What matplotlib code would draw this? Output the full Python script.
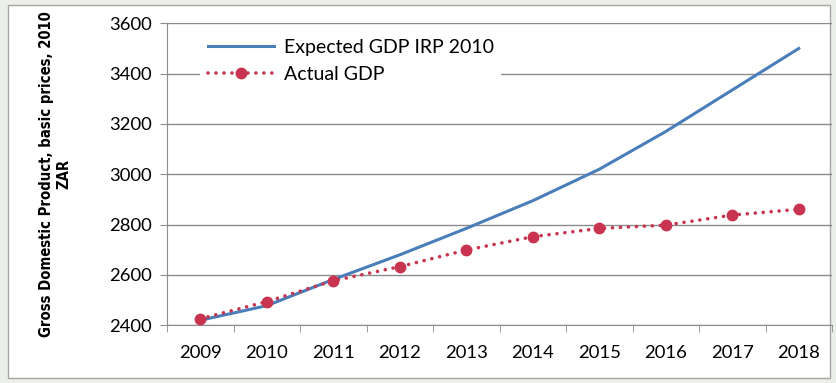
import matplotlib.pyplot as plt
from matplotlib.patches import Rectangle

years = ["2009", "2010", "2011", "2012", "2013", "2014", "2015", "2016", "2017", "2018"]
expected_gdp = [2420, 2478, 2582, 2680, 2785, 2895, 3020, 3170, 3335, 3500]
actual_gdp = [2426, 2494, 2577, 2633, 2699, 2752, 2785, 2798, 2838, 2861]

blue = "#4a7ebb"
red = "#c8334f"
grid_col = "#8c8c8c"

fig = plt.figure(figsize=(8.36, 3.83), dpi=100)
fig.patch.set_facecolor("#eceee9")
# white chart area with a thin frame
frame = Rectangle((8/836, 1-378/383), 822/836, 373/383, transform=fig.transFigure,
                  facecolor="white", edgecolor="#a6a6a6", linewidth=1, zorder=-10)
fig.add_artist(frame)

ax = fig.add_axes([167/836, 1-325.3/383, 665/836, 302/383])
ax.set_facecolor("none")
x = list(range(len(years)))

ax.plot(x, expected_gdp, color=blue, linewidth=2.2, label="Expected GDP IRP 2010", zorder=3)
ax.plot(x, actual_gdp, color=red, linestyle=(0, (0.01, 2.2)), linewidth=2.6,
        marker="o", markersize=7.5, markerfacecolor=red, markeredgecolor=red,
        dash_capstyle="round", label="Actual GDP", zorder=4)

ax.set_xlim(-0.5, 9.5)
ax.set_ylim(2400, 3600)
ax.set_yticks(range(2400, 3601, 200))
ax.set_xticks(x)
ax.set_xticklabels(years)
ax.set_xticks([i - 0.5 for i in range(11)], minor=True)
ax.tick_params(axis="x", which="major", length=0, pad=14, labelsize=13.3)
ax.tick_params(axis="x", which="minor", length=5, color=grid_col, direction="out")
ax.tick_params(axis="y", length=5, color=grid_col, pad=6, labelsize=13.3)
for lab in ax.get_xticklabels() + ax.get_yticklabels():
    lab.set_fontfamily("Lato")

ax.grid(axis="y", color=grid_col, linewidth=1)
ax.set_axisbelow(True)
for s in ["top", "right"]:
    ax.spines[s].set_visible(False)
for s in ["left", "bottom"]:
    ax.spines[s].set_color(grid_col)

ax.set_ylabel("Gross Domestic Product, basic prices, 2010\nZAR",
              fontfamily="DejaVu Sans", fontstretch="condensed", fontweight="bold",
              fontsize=10.6, labelpad=27, linespacing=1.2)

leg = ax.legend(loc="upper left", bbox_to_anchor=(0.035, 1.005), frameon=True,
                handlelength=3.4, handletextpad=0.5, labelspacing=0.5,
                prop={"family": "Lato", "size": 14}, borderpad=0.4)
leg.get_frame().set_facecolor("white")
leg.get_frame().set_edgecolor("none")
leg.get_frame().set_alpha(1)
leg.get_frame().set_boxstyle("square", pad=0)

fig.savefig("out.png", dpi=100, facecolor=fig.get_facecolor())
